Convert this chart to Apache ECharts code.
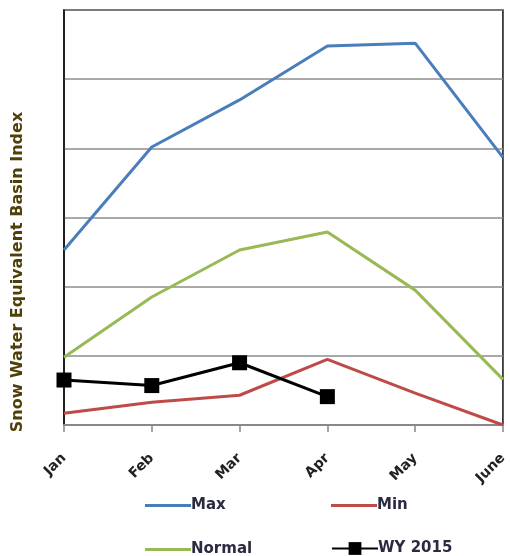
<!DOCTYPE html>
<html><head><meta charset="utf-8">
<script src="https://cdn.jsdelivr.net/npm/echarts@6/dist/echarts.min.js"></script>
<style>html,body{margin:0;padding:0;background:#fff}#c{width:510px;height:556px}</style>
</head><body><div id="c"></div>
<script>
var months = ['Jan','Feb','Mar','Apr','May','June'];
var maxVals = [2.53, 4.02, 4.70, 5.48, 5.52, 3.87];
var minVals = [0.17, 0.33, 0.43, 0.95, 0.46, 0.0];
var normalVals = [0.98, 1.85, 2.53, 2.79, 1.95, 0.66];
var wy2015Vals = [0.65, 0.57, 0.90, 0.41];
var yTitle = 'Snow Water Equivalent Basin Index';

var chart = echarts.init(document.getElementById('c'));
var lg = function(name, left, top, icon, h){
  var item = icon ? {name:name, icon:icon} : name;
  return {data:[item], left:left, top:top, itemWidth:46, itemHeight:h, itemGap:0,
    textStyle:{fontFamily:'DejaVu Sans', fontWeight:'bold', fontSize:15, color:'#2a2a40', padding:[0,0,0,-5]}};
};
chart.setOption({
  animation:false,
  grid:{left:64, right:1, top:10, bottom:131, show:true, borderColor:'#111', borderWidth:1.5},
  legend:[lg('Max',140,493,'rect',3), lg('Min',326,493,'rect',3), lg('Normal',140,537,'rect',3), lg('WY 2015',326,536,null,16)],
  graphic:[{type:'text', x:18, y:272, rotation:Math.PI/2,
    style:{text:yTitle, fontFamily:'DejaVu Sans', fontWeight:'bold', fontSize:16, fill:'#4f400a', align:'center', verticalAlign:'middle'}}],
  xAxis:{type:'category', data:months, boundaryGap:false,
    axisLine:{lineStyle:{color:'#888', width:2}},
    axisTick:{show:true, length:7, lineStyle:{color:'#888', width:1.5}},
    axisLabel:{rotate:45, margin:31, fontFamily:'DejaVu Sans', fontWeight:'bold', fontSize:14, color:'#222'}},
  yAxis:{type:'value', min:0, max:6, interval:1,
    axisLine:{show:true, lineStyle:{color:'#111', width:1.5}},
    axisTick:{show:false}, axisLabel:{show:false},
    splitLine:{lineStyle:{color:'#8c8c8c', width:1.5}}},
  series:[
    {name:'Max', type:'line', data:maxVals, symbol:'none', lineStyle:{color:'#4a7ebb', width:3}, itemStyle:{color:'#4a7ebb'}},
    {name:'Min', type:'line', data:minVals, symbol:'none', lineStyle:{color:'#be4b48', width:3}, itemStyle:{color:'#be4b48'}},
    {name:'Normal', type:'line', data:normalVals, symbol:'none', lineStyle:{color:'#98b954', width:3}, itemStyle:{color:'#98b954'}},
    {name:'WY 2015', type:'line', data:wy2015Vals, symbol:'rect', symbolSize:15, lineStyle:{color:'#000', width:3}, itemStyle:{color:'#000'}}
  ]
});
</script></body></html>
